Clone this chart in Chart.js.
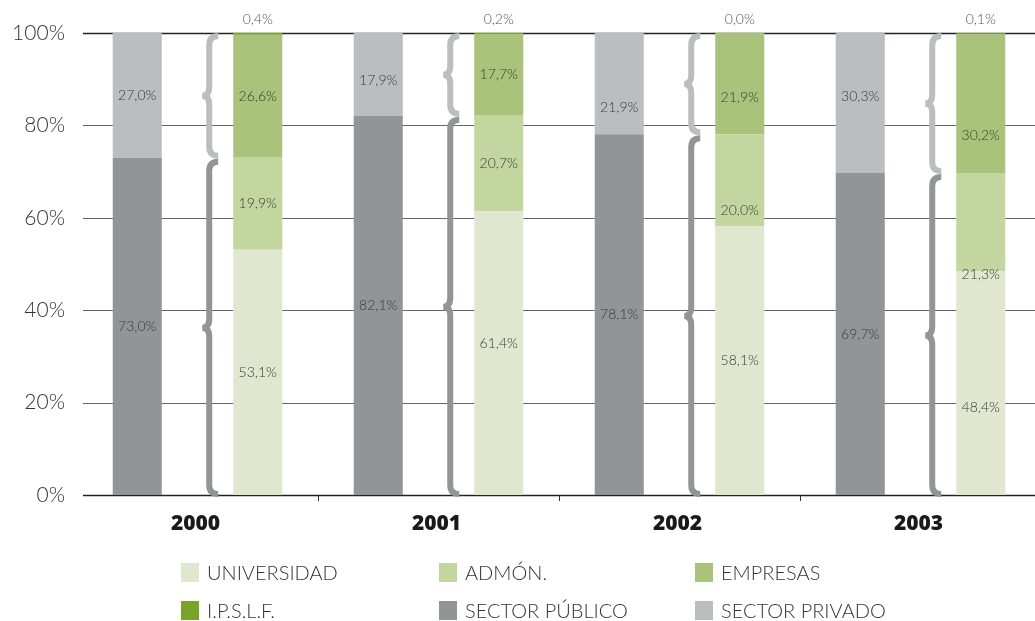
<!DOCTYPE html>
<html>
<head>
<meta charset="utf-8">
<script src="https://cdn.jsdelivr.net/npm/chart.js@4.4.1/dist/chart.umd.min.js"></script>
<style>
  body { margin: 0; background: #fff; overflow: hidden; }
  #wrap { position: relative; width: 1035px; height: 621px; overflow: hidden; }
  #chart { position: absolute; left: 0; top: 0; }
  .item { position: absolute; height: 19px; font-family: Lato, sans-serif; font-weight: 300;
          font-size: 20px; color: #333; white-space: nowrap; }
  .item span.box { position: absolute; left: 0; top: 0; width: 18px; height: 19px; }
  .item span.txt { position: absolute; left: 26px; top: -3px; line-height: 24px; }
</style>
</head>
<body>
<div id="wrap">
  <canvas id="chart" width="1043" height="621"></canvas>
  <div id="legend"></div>
</div>
<script>
const years = ['2000', '2001', '2002', '2003'];
const universidad = [53.1, 61.4, 58.1, 48.4];
const admon = [19.9, 20.7, 20.0, 21.3];
const empresas = [26.6, 17.7, 21.9, 30.2];
const ipslf = [0.4, 0.2, 0.0, 0.1];
const publico = [73.0, 82.1, 78.1, 69.7];
const privado = [27.0, 17.9, 21.9, 30.3];
const yTicks = [0, 20, 40, 60, 80, 100];

const colors = {
    universidad: '#dfe8cf',
    admon: '#c3d6a0',
    empresas: '#a9c47a',
    ipslf: '#7aa32a',
    publico: '#939498',
    privado: '#bcbdc1'
};

const fmt = v => v.toFixed(1).replace('.', ',') + '%';

// hand placed label shifts in the original (px, by dataset index : year index)
const nudge = {
    '1:1': 6, '1:2': 24, '1:3': -7,
    '2:1': -10, '2:3': 24,
    '3:2': 30, '3:3': 52,
    '4:2': 14, '4:3': 32
};

function brace(ctx, x, y1, y2, color) {
    const w = 9, tip = 7, r = 9;
    const ym = (y1 + y2) / 2;
    ctx.beginPath();
    ctx.moveTo(x + w, y1);
    ctx.quadraticCurveTo(x, y1, x, y1 + r);
    ctx.lineTo(x, ym - r);
    ctx.quadraticCurveTo(x, ym, x - tip, ym);
    ctx.quadraticCurveTo(x, ym, x, ym + r);
    ctx.lineTo(x, y2 - r);
    ctx.quadraticCurveTo(x, y2, x + w, y2);
    ctx.lineWidth = 6;
    ctx.strokeStyle = color;
    ctx.stroke();
}

const gridPlugin = {
    id: 'grid',
    beforeDatasetsDraw(chart) {
        const ctx = chart.ctx, y = chart.scales.y, area = chart.chartArea;
        ctx.save();
        yTicks.forEach(t => {
            const py = Math.round(y.getPixelForValue(t)) + 0.5;
            ctx.beginPath();
            ctx.moveTo(83, py);
            ctx.lineTo(area.right, py);
            ctx.lineWidth = (t === 0 || t === 100) ? 1.5 : 1;
            ctx.strokeStyle = (t === 0 || t === 100) ? '#222' : '#666';
            ctx.stroke();
        });
        ctx.restore();
    }
};

const extrasPlugin = {
    id: 'extras',
    afterDatasetsDraw(chart) {
        const ctx = chart.ctx, y = chart.scales.y;
        ctx.save();
        // braces
        const uni = chart.getDatasetMeta(2).data;
        years.forEach((yr, i) => {
            const bx = uni[i].x - uni[i].width / 2 - 24;
            const top = y.getPixelForValue(100), bot = y.getPixelForValue(0);
            const mid = y.getPixelForValue(publico[i]);
            brace(ctx, bx, top + 3, mid - 2, colors.privado);
            brace(ctx, bx, mid + 4, bot - 1, colors.publico);
        });
        // value labels
        ctx.font = '300 14px Lato, sans-serif';
        ctx.textAlign = 'center';
        ctx.textBaseline = 'middle';
        chart.data.datasets.forEach((ds, di) => {
            const meta = chart.getDatasetMeta(di);
            meta.data.forEach((bar, i) => {
                const v = ds.data[i];
                if (ds.label === 'I.P.S.L.F.') {
                    ctx.fillStyle = '#555';
                    ctx.fillText(fmt(v), bar.x, y.getPixelForValue(100) - 14);
                    return;
                }
                const cy = (bar.y + bar.base) / 2 + (nudge[di + ':' + i] || 0);
                ctx.fillStyle = '#3a3a3a';
                ctx.fillText(fmt(v), bar.x, cy);
            });
        });
        ctx.restore();
    }
};

const ctx = document.getElementById('chart').getContext('2d');
const chart = new Chart(ctx, {
    type: 'bar',
    data: {
        labels: years,
        datasets: [
            { label: 'SECTOR PÚBLICO', data: publico, backgroundColor: colors.publico, stack: 'sector' },
            { label: 'SECTOR PRIVADO', data: privado, backgroundColor: colors.privado, stack: 'sector' },
            { label: 'UNIVERSIDAD', data: universidad, backgroundColor: colors.universidad, stack: 'ejec' },
            { label: 'ADMÓN.', data: admon, backgroundColor: colors.admon, stack: 'ejec' },
            { label: 'EMPRESAS', data: empresas, backgroundColor: colors.empresas, stack: 'ejec' },
            { label: 'I.P.S.L.F.', data: ipslf, backgroundColor: colors.ipslf, stack: 'ejec' }
        ]
    },
    options: {
        responsive: false,
        animation: false,
        layout: { padding: { top: 33, right: 2, left: 0, bottom: 0 } },
        datasets: { bar: { categoryPercentage: 1.0, barPercentage: 0.407, borderWidth: 0 } },
        plugins: { legend: { display: false }, tooltip: { enabled: false } },
        scales: {
            x: {
                stacked: true,
                border: { display: false },
                grid: {
                    drawOnChartArea: false,
                    tickLength: 6,
                    color: c => c.index === 0 ? 'rgba(0,0,0,0)' : '#333'
                },
                ticks: {
                    padding: 10,
                    labelOffset: -2,
                    color: '#1a1a1a',
                    font: { family: '"Open Sans", sans-serif', size: 21, weight: '800' }
                },
                afterFit: s => { s.height = 126; }
            },
            y: {
                stacked: true,
                min: 0,
                max: 100,
                border: { display: false },
                grid: { display: false, drawTicks: false },
                ticks: {
                    stepSize: 20,
                    padding: 12,
                    color: '#333',
                    font: { family: 'Lato, sans-serif', size: 21, weight: '300' },
                    callback: v => v + '%'
                },
                afterFit: s => { s.width = 77; }
            }
        }
    },
    plugins: [gridPlugin, extrasPlugin]
});

// legend in the original's 3 x 2 grid
const legendOrder = ['UNIVERSIDAD', 'ADMÓN.', 'EMPRESAS', 'I.P.S.L.F.', 'SECTOR PÚBLICO', 'SECTOR PRIVADO'];
const colX = [181, 439, 695];
const rowY = [563, 601];
const legend = document.getElementById('legend');
legendOrder.forEach((name, k) => {
    const ds = chart.data.datasets.find(d => d.label === name);
    const el = document.createElement('div');
    el.className = 'item';
    el.style.left = colX[k % 3] + 'px';
    el.style.top = rowY[Math.floor(k / 3)] + 'px';
    el.innerHTML = '<span class="box" style="background:' + ds.backgroundColor + '"></span><span class="txt">' + name + '</span>';
    legend.appendChild(el);
});
</script>
</body>
</html>
